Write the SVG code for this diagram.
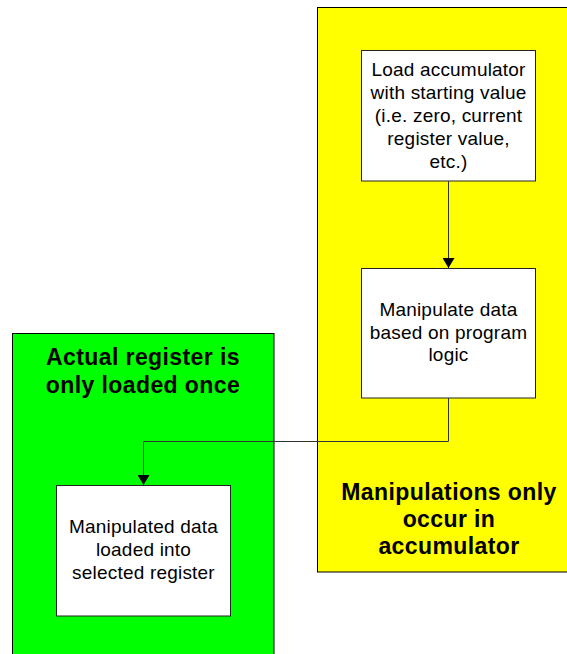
<svg xmlns="http://www.w3.org/2000/svg" width="567" height="654" viewBox="0 0 567 654">
<defs>
<style>
.region{stroke:#000;stroke-width:1}
.box{fill:#fff;stroke:#222;stroke-width:1}
.t{font-family:"Liberation Sans",Arial,sans-serif;font-size:19px;letter-spacing:0.2px;fill:#000;text-anchor:middle}
.b{font-family:"Liberation Sans",Arial,sans-serif;font-size:23px;letter-spacing:0.4px;font-weight:bold;fill:#000;text-anchor:middle}
.conn{fill:none;stroke:#333;stroke-width:1}
</style>
<marker id="arr" viewBox="0 0 10 12" refX="10" refY="6" markerWidth="10" markerHeight="12" markerUnits="userSpaceOnUse" orient="auto">
<path d="M0,0 L10,6 L0,12 Z" fill="#000"/>
</marker>
</defs>
<rect width="567" height="654" fill="#fff"/>
<g id="yellow-region">
<rect class="region" x="317.5" y="7.5" width="260" height="564.5" fill="#ffff00"/>
<text class="b" x="449" y="500">Manipulations only</text>
<text class="b" x="449" y="527">occur in</text>
<text class="b" x="449" y="554">accumulator</text>
</g>
<g id="green-region">
<rect class="region" x="12.5" y="333.5" width="261.5" height="330" fill="#00ff00"/>
<text class="b" x="143" y="365">Actual register is</text>
<text class="b" x="143" y="393">only loaded once</text>
</g>
<g id="load-accumulator">
<rect class="box" x="361.5" y="50.5" width="174" height="130.5"/>
<text class="t" x="448.5" y="76">Load accumulator</text>
<text class="t" x="448.5" y="99">with starting value</text>
<text class="t" x="448.5" y="122">(i.e. zero, current</text>
<text class="t" x="448.5" y="145">register value,</text>
<text class="t" x="448.5" y="168">etc.)</text>
</g>
<g id="manipulate-data">
<rect class="box" x="361.5" y="268.5" width="174" height="129.5"/>
<text class="t" x="448.5" y="316">Manipulate data</text>
<text class="t" x="448.5" y="339">based on program</text>
<text class="t" x="448.5" y="361">logic</text>
</g>
<g id="manipulated-data-loaded">
<rect class="box" x="56.5" y="485.5" width="174" height="130.5"/>
<text class="t" x="143.5" y="533">Manipulated data</text>
<text class="t" x="143.5" y="556">loaded into</text>
<text class="t" x="143.5" y="579">selected register</text>
</g>
<g id="connectors">
<path class="conn" d="M448.5,181 L448.5,268" marker-end="url(#arr)"/>
<path class="conn" d="M448.5,398 L448.5,441.5 L143.5,441.5 L143.5,485" marker-end="url(#arr)"/>
</g>
</svg>
